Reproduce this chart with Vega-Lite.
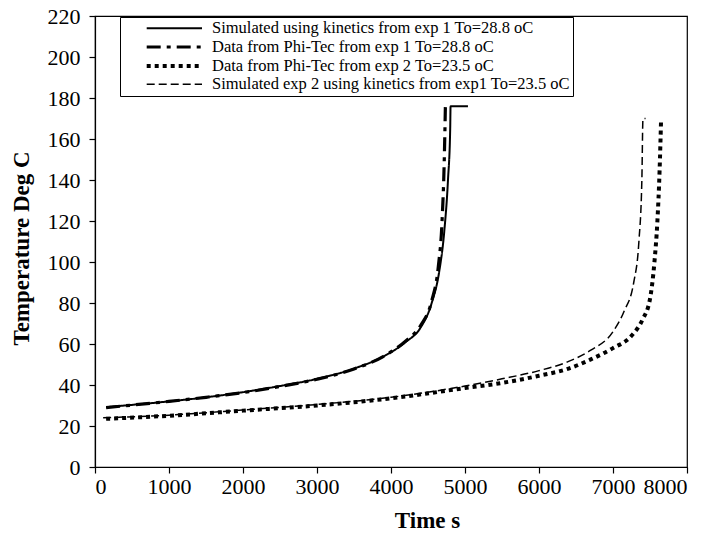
{
  "$schema": "https://vega.github.io/schema/vega-lite/v6.json",
  "autosize": "none",
  "width": 592,
  "height": 451,
  "padding": {"left": 95, "top": 16, "right": 21, "bottom": 78},
  "background": "white",
  "config": {
    "font": "Liberation Serif",
    "view": {"stroke": "black", "strokeWidth": 1.2},
    "axis": {"grid": false, "domainColor": "black", "tickColor": "black", "labelColor": "black", "titleColor": "black", "labelFont": "Liberation Serif", "titleFont": "Liberation Serif", "labelFontSize": 22, "titleFontSize": 23, "titleFontWeight": "bold", "domainWidth": 1.2, "tickWidth": 1.2},
    "legend": {"orient": "none", "legendX": 25, "legendY": 1, "strokeColor": "black", "fillColor": "white", "padding": 3, "labelFont": "Liberation Serif", "labelFontSize": 16.5, "labelColor": "black", "labelOffset": 71, "symbolType": "M2.1,0H10", "symbolSize": 196, "symbolStrokeColor": "black", "rowPadding": 1, "labelLimit": 600}
  },
  "data": {"values": [
    {"series": "Simulated using kinetics from exp 1 To=28.8 oC", "t": 150, "T": 29.2}, {"series": "Simulated using kinetics from exp 1 To=28.8 oC", "t": 500, "T": 30.3}, {"series": "Simulated using kinetics from exp 1 To=28.8 oC", "t": 1000, "T": 32}, {"series": "Simulated using kinetics from exp 1 To=28.8 oC", "t": 1500, "T": 34}, {"series": "Simulated using kinetics from exp 1 To=28.8 oC", "t": 2000, "T": 36.5}, {"series": "Simulated using kinetics from exp 1 To=28.8 oC", "t": 2500, "T": 39.5}, {"series": "Simulated using kinetics from exp 1 To=28.8 oC", "t": 3000, "T": 43}, {"series": "Simulated using kinetics from exp 1 To=28.8 oC", "t": 3500, "T": 48}, {"series": "Simulated using kinetics from exp 1 To=28.8 oC", "t": 3900, "T": 54}, {"series": "Simulated using kinetics from exp 1 To=28.8 oC", "t": 4200, "T": 61}, {"series": "Simulated using kinetics from exp 1 To=28.8 oC", "t": 4400, "T": 68}, {"series": "Simulated using kinetics from exp 1 To=28.8 oC", "t": 4550, "T": 80}, {"series": "Simulated using kinetics from exp 1 To=28.8 oC", "t": 4650, "T": 95}, {"series": "Simulated using kinetics from exp 1 To=28.8 oC", "t": 4720, "T": 115}, {"series": "Simulated using kinetics from exp 1 To=28.8 oC", "t": 4770, "T": 140}, {"series": "Simulated using kinetics from exp 1 To=28.8 oC", "t": 4800, "T": 165}, {"series": "Simulated using kinetics from exp 1 To=28.8 oC", "t": 4805, "T": 176}, {"series": "Simulated using kinetics from exp 1 To=28.8 oC", "t": 5040, "T": 176},
    {"series": "Data from Phi-Tec from exp 1 To=28.8 oC", "t": 150, "T": 29}, {"series": "Data from Phi-Tec from exp 1 To=28.8 oC", "t": 500, "T": 30.2}, {"series": "Data from Phi-Tec from exp 1 To=28.8 oC", "t": 1000, "T": 32}, {"series": "Data from Phi-Tec from exp 1 To=28.8 oC", "t": 1500, "T": 34}, {"series": "Data from Phi-Tec from exp 1 To=28.8 oC", "t": 2000, "T": 36.3}, {"series": "Data from Phi-Tec from exp 1 To=28.8 oC", "t": 2500, "T": 39.3}, {"series": "Data from Phi-Tec from exp 1 To=28.8 oC", "t": 3000, "T": 42.8}, {"series": "Data from Phi-Tec from exp 1 To=28.8 oC", "t": 3500, "T": 47.8}, {"series": "Data from Phi-Tec from exp 1 To=28.8 oC", "t": 3900, "T": 54}, {"series": "Data from Phi-Tec from exp 1 To=28.8 oC", "t": 4200, "T": 61.5}, {"series": "Data from Phi-Tec from exp 1 To=28.8 oC", "t": 4400, "T": 69}, {"series": "Data from Phi-Tec from exp 1 To=28.8 oC", "t": 4550, "T": 81}, {"series": "Data from Phi-Tec from exp 1 To=28.8 oC", "t": 4640, "T": 98}, {"series": "Data from Phi-Tec from exp 1 To=28.8 oC", "t": 4690, "T": 120}, {"series": "Data from Phi-Tec from exp 1 To=28.8 oC", "t": 4720, "T": 150}, {"series": "Data from Phi-Tec from exp 1 To=28.8 oC", "t": 4735, "T": 176},
    {"series": "Data from Phi-Tec from exp 2 To=23.5 oC", "t": 150, "T": 23.5}, {"series": "Data from Phi-Tec from exp 2 To=23.5 oC", "t": 1000, "T": 25}, {"series": "Data from Phi-Tec from exp 2 To=23.5 oC", "t": 2000, "T": 27.5}, {"series": "Data from Phi-Tec from exp 2 To=23.5 oC", "t": 3000, "T": 30}, {"series": "Data from Phi-Tec from exp 2 To=23.5 oC", "t": 4000, "T": 33.5}, {"series": "Data from Phi-Tec from exp 2 To=23.5 oC", "t": 5000, "T": 38.5}, {"series": "Data from Phi-Tec from exp 2 To=23.5 oC", "t": 5500, "T": 41}, {"series": "Data from Phi-Tec from exp 2 To=23.5 oC", "t": 6000, "T": 44.5}, {"series": "Data from Phi-Tec from exp 2 To=23.5 oC", "t": 6400, "T": 48}, {"series": "Data from Phi-Tec from exp 2 To=23.5 oC", "t": 6700, "T": 52.5}, {"series": "Data from Phi-Tec from exp 2 To=23.5 oC", "t": 7000, "T": 58}, {"series": "Data from Phi-Tec from exp 2 To=23.5 oC", "t": 7250, "T": 64}, {"series": "Data from Phi-Tec from exp 2 To=23.5 oC", "t": 7400, "T": 72}, {"series": "Data from Phi-Tec from exp 2 To=23.5 oC", "t": 7500, "T": 82}, {"series": "Data from Phi-Tec from exp 2 To=23.5 oC", "t": 7560, "T": 100}, {"series": "Data from Phi-Tec from exp 2 To=23.5 oC", "t": 7600, "T": 120}, {"series": "Data from Phi-Tec from exp 2 To=23.5 oC", "t": 7630, "T": 145}, {"series": "Data from Phi-Tec from exp 2 To=23.5 oC", "t": 7650, "T": 170},
    {"series": "Simulated exp 2 using kinetics from exp1 To=23.5 oC", "t": 110, "T": 24}, {"series": "Simulated exp 2 using kinetics from exp1 To=23.5 oC", "t": 1000, "T": 25.3}, {"series": "Simulated exp 2 using kinetics from exp1 To=23.5 oC", "t": 2000, "T": 27.8}, {"series": "Simulated exp 2 using kinetics from exp1 To=23.5 oC", "t": 3000, "T": 30.5}, {"series": "Simulated exp 2 using kinetics from exp1 To=23.5 oC", "t": 4000, "T": 34}, {"series": "Simulated exp 2 using kinetics from exp1 To=23.5 oC", "t": 5000, "T": 39.5}, {"series": "Simulated exp 2 using kinetics from exp1 To=23.5 oC", "t": 5500, "T": 43}, {"series": "Simulated exp 2 using kinetics from exp1 To=23.5 oC", "t": 6000, "T": 47}, {"series": "Simulated exp 2 using kinetics from exp1 To=23.5 oC", "t": 6400, "T": 51.5}, {"series": "Simulated exp 2 using kinetics from exp1 To=23.5 oC", "t": 6700, "T": 57}, {"series": "Simulated exp 2 using kinetics from exp1 To=23.5 oC", "t": 7000, "T": 66}, {"series": "Simulated exp 2 using kinetics from exp1 To=23.5 oC", "t": 7150, "T": 76}, {"series": "Simulated exp 2 using kinetics from exp1 To=23.5 oC", "t": 7280, "T": 90}, {"series": "Simulated exp 2 using kinetics from exp1 To=23.5 oC", "t": 7350, "T": 110}, {"series": "Simulated exp 2 using kinetics from exp1 To=23.5 oC", "t": 7390, "T": 140}, {"series": "Simulated exp 2 using kinetics from exp1 To=23.5 oC", "t": 7405, "T": 170}, {"series": "Simulated exp 2 using kinetics from exp1 To=23.5 oC", "t": 7440, "T": 170}
  ]},
  "mark": {"type": "line", "color": "black", "interpolate": "monotone"},
  "encoding": {
    "x": {"field": "t", "type": "quantitative", "title": "Time s", "scale": {"domain": [0, 8000], "nice": false}, "axis": {"values": [0, 1000, 2000, 3000, 4000, 5000, 6000, 7000, 8000], "format": "d", "tickSize": 6, "labelPadding": 3, "titlePadding": 12, "titleX": 332}},
    "y": {"field": "T", "type": "quantitative", "title": "Temperature Deg C", "scale": {"domain": [0, 220], "nice": false}, "axis": {"values": [0, 20, 40, 60, 80, 100, 120, 140, 160, 180, 200, 220], "format": "d", "tickSize": 6, "labelPadding": 9, "titlePadding": 14, "titleY": 232}},
    "order": {"field": "t", "type": "quantitative"},
    "strokeDash": {"field": "series", "type": "nominal", "title": null,
      "scale": {"domain": ["Simulated using kinetics from exp 1 To=28.8 oC", "Data from Phi-Tec from exp 1 To=28.8 oC", "Data from Phi-Tec from exp 2 To=23.5 oC", "Simulated exp 2 using kinetics from exp1 To=23.5 oC"], "range": [[1, 0], [14, 6, 4, 6], [4, 4], [8, 4]]}},
    "strokeWidth": {"field": "series", "type": "nominal", "title": null,
      "scale": {"type": "ordinal", "domain": ["Simulated using kinetics from exp 1 To=28.8 oC", "Data from Phi-Tec from exp 1 To=28.8 oC", "Data from Phi-Tec from exp 2 To=23.5 oC", "Simulated exp 2 using kinetics from exp1 To=23.5 oC"], "range": [2, 3.2, 4, 1.5]}}
  }
}
